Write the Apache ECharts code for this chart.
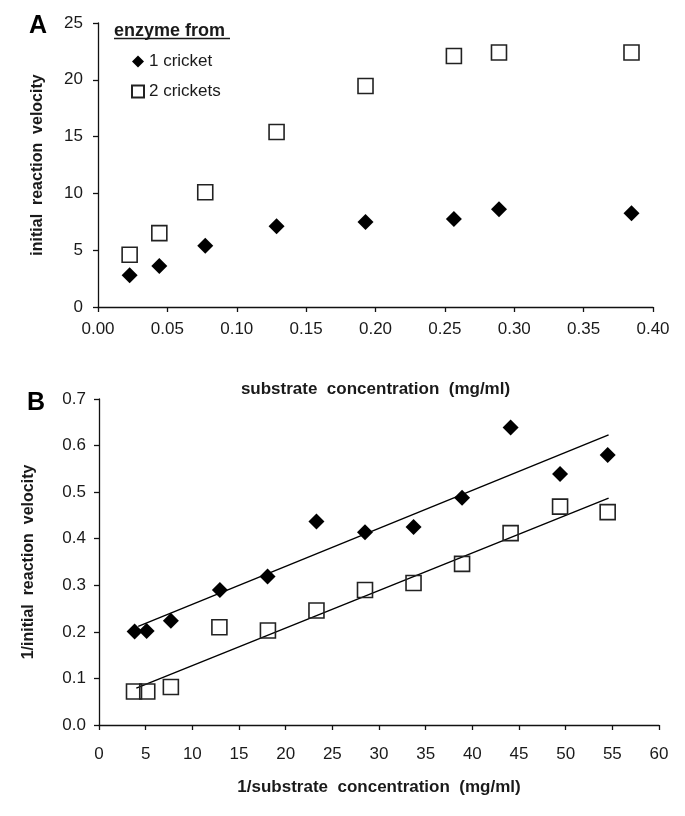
<!DOCTYPE html>
<html>
<head>
<meta charset="utf-8">
<script src="https://cdn.jsdelivr.net/npm/echarts@6/dist/echarts.min.js"></script>
<style>
html,body{margin:0;padding:0;background:#fff;}
#chart{width:685px;height:816px;}
</style>
</head>
<body>
<div id="chart"></div>
<script>
// Panel A: substrate concentration vs initial reaction velocity
var concA = [0.0228, 0.0442, 0.0773, 0.1287, 0.1928, 0.2565, 0.289, 0.3845];
var velOneCricket = [2.8, 3.6, 5.4, 7.1, 7.48, 7.75, 8.6, 8.25];
var velTwoCrickets = [4.6, 6.5, 10.1, 15.4, 19.45, 22.1, 22.4, 22.4];

// Panel B: double reciprocal (Lineweaver-Burk)
var invConcOne = [3.82, 5.1, 7.7, 12.95, 18.06, 23.3, 28.5, 33.7, 38.9, 44.1, 49.4, 54.5];
var invVelOne = [0.201, 0.202, 0.224, 0.290, 0.319, 0.437, 0.414, 0.425, 0.488, 0.639, 0.539, 0.580];
var invConcTwo = [3.75, 5.17, 7.7, 12.9, 18.1, 23.3, 28.5, 33.7, 38.9, 44.1, 49.4, 54.5];
var invVelTwo = [0.072, 0.072, 0.0815, 0.210, 0.203, 0.246, 0.290, 0.305, 0.346, 0.412, 0.469, 0.457];

// Trend line end points (x, y)
var trendOneX = [4.2, 54.6];
var trendOneY = [0.2116, 0.623];
var trendTwoX = [4.0, 54.6];
var trendTwoY = [0.079, 0.487];

// Tick settings
var xTicksA = {min: 0, max: 0.4, interval: 0.05};
var yTicksA = {min: 0, max: 25, interval: 5};
var xTicksB = {min: 0, max: 60, interval: 5};
var yTicksB = {min: 0, max: 0.7, interval: 0.1};

var seriesNames = ['1 cricket', '2 crickets'];

function pairs(xs, ys) { return xs.map(function (x, i) { return [x, ys[i]]; }); }

var FONT = "'Liberation Sans', Arial, sans-serif";
var TXT = '#1a1a1a';

var axisLineStyle = {show: true, onZero: false, lineStyle: {color: '#111', width: 1.3}};
var axisTickStyle = {show: true, inside: false, length: 5, lineStyle: {color: '#111', width: 1.3}};

var chart = echarts.init(document.getElementById('chart'), null, {renderer: 'canvas'});

var option = {
  backgroundColor: '#fff',
  animation: false,
  grid: [
    {left: 98, top: 23, right: 32, bottom: 509, containLabel: false},
    {left: 99, top: 399, right: 26, bottom: 91, containLabel: false}
  ],
  xAxis: [
    {
      gridIndex: 0, type: 'value', min: xTicksA.min, max: xTicksA.max, interval: xTicksA.interval,
      axisLine: axisLineStyle, axisTick: axisTickStyle, splitLine: {show: false},
      axisLabel: {fontSize: 17, color: TXT, fontFamily: FONT, margin: 14,
        formatter: function (v) { return v.toFixed(2); }},
      name: 'substrate  concentration  (mg/ml)', nameLocation: 'middle', nameGap: 74,
      nameTextStyle: {fontSize: 17, fontWeight: 'bold', color: TXT, fontFamily: FONT}
    },
    {
      gridIndex: 1, type: 'value', min: xTicksB.min, max: xTicksB.max, interval: xTicksB.interval,
      axisLine: axisLineStyle, axisTick: axisTickStyle, splitLine: {show: false},
      axisLabel: {fontSize: 17, color: TXT, fontFamily: FONT, margin: 21},
      name: '1/substrate  concentration  (mg/ml)', nameLocation: 'middle', nameGap: 54,
      nameTextStyle: {fontSize: 17, fontWeight: 'bold', color: TXT, fontFamily: FONT}
    }
  ],
  yAxis: [
    {
      gridIndex: 0, type: 'value', min: yTicksA.min, max: yTicksA.max, interval: yTicksA.interval,
      axisLine: axisLineStyle, axisTick: axisTickStyle, splitLine: {show: false},
      axisLabel: {fontSize: 17, color: TXT, fontFamily: FONT, margin: 15},
      name: 'initial  reaction  velocity', nameLocation: 'middle', nameGap: 52,
      nameTextStyle: {fontSize: 16, fontWeight: 'bold', color: TXT, fontFamily: FONT}
    },
    {
      gridIndex: 1, type: 'value', min: yTicksB.min, max: yTicksB.max, interval: yTicksB.interval,
      axisLine: axisLineStyle, axisTick: axisTickStyle, splitLine: {show: false},
      axisLabel: {fontSize: 17, color: TXT, fontFamily: FONT, margin: 13,
        formatter: function (v) { return v.toFixed(1); }},
      name: '1/initial  reaction  velocity', nameLocation: 'middle', nameGap: 62,
      nameTextStyle: {fontSize: 16, fontWeight: 'bold', color: TXT, fontFamily: FONT}
    }
  ],
  legend: {
    data: [{name: seriesNames[0], icon: 'diamond'}, {name: seriesNames[1], icon: 'rect'}],
    orient: 'vertical', left: 126, top: 48, itemWidth: 12, itemHeight: 12, itemGap: 13,
    textStyle: {fontSize: 17, color: TXT, fontFamily: FONT},
    selectedMode: false
  },
  graphic: [
    {type: 'text', left: 29, top: 14, style: {text: 'A', font: "bold 25px " + FONT, fill: '#000'}},
    {type: 'text', left: 27, top: 391, style: {text: 'B', font: "bold 25px " + FONT, fill: '#000'}},
    {type: 'text', left: 114, top: 22, style: {text: 'enzyme from', font: "bold 18px " + FONT, fill: TXT}},
    {type: 'line', shape: {x1: 114, y1: 38.5, x2: 230, y2: 38.5}, style: {stroke: TXT, lineWidth: 1.5}}
  ],
  series: [
    {
      name: seriesNames[0], type: 'scatter', xAxisIndex: 0, yAxisIndex: 0,
      symbol: 'diamond', symbolSize: 16,
      itemStyle: {color: '#000', opacity: 1},
      data: pairs(concA, velOneCricket)
    },
    {
      name: seriesNames[1], type: 'scatter', xAxisIndex: 0, yAxisIndex: 0,
      symbol: 'rect', symbolSize: 15,
      itemStyle: {color: '#fff', borderColor: '#222', borderWidth: 1.6, opacity: 1},
      data: pairs(concA, velTwoCrickets)
    },
    {
      name: 'trend 1', type: 'line', xAxisIndex: 1, yAxisIndex: 1,
      symbol: 'none', lineStyle: {color: '#000', width: 1.4}, z: 1,
      data: pairs(trendOneX, trendOneY)
    },
    {
      name: 'trend 2', type: 'line', xAxisIndex: 1, yAxisIndex: 1,
      symbol: 'none', lineStyle: {color: '#000', width: 1.4}, z: 1,
      data: pairs(trendTwoX, trendTwoY)
    },
    {
      name: 'B 1 cricket', type: 'scatter', xAxisIndex: 1, yAxisIndex: 1,
      symbol: 'diamond', symbolSize: 16, z: 3,
      itemStyle: {color: '#000', opacity: 1},
      data: pairs(invConcOne, invVelOne)
    },
    {
      name: 'B 2 crickets', type: 'scatter', xAxisIndex: 1, yAxisIndex: 1,
      symbol: 'rect', symbolSize: 15, z: 3,
      itemStyle: {color: 'rgba(255,255,255,0)', borderColor: '#222', borderWidth: 1.6, opacity: 1},
      data: pairs(invConcTwo, invVelTwo)
    }
  ]
};
chart.setOption(option);
</script>
</body>
</html>
